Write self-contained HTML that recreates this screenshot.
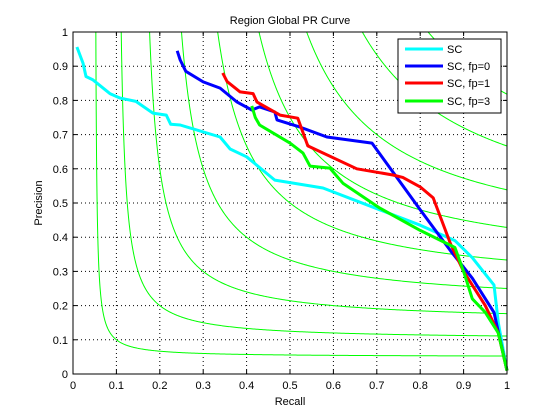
<!DOCTYPE html>
<html><head><meta charset="utf-8"><style>
html,body{margin:0;padding:0;background:#fff;}
svg{display:block;font-family:"Liberation Sans",sans-serif;}
</style></head><body>
<svg id="chart" width="560" height="420" viewBox="0 0 560 420" xmlns="http://www.w3.org/2000/svg">
<rect x="0" y="0" width="560" height="420" fill="#fff"/>
<g id="plot"></g>
</svg>
<script>
const xTicks = [0,0.1,0.2,0.3,0.4,0.5,0.6,0.7,0.8,0.9,1];
const yTicks = [0,0.1,0.2,0.3,0.4,0.5,0.6,0.7,0.8,0.9,1];
const tickLabels = ["0","0.1","0.2","0.3","0.4","0.5","0.6","0.7","0.8","0.9","1"];
const fLevels = [0.1,0.2,0.3,0.4,0.5,0.6,0.7,0.8,0.9];
const seriesNames = ["SC","SC, fp=0","SC, fp=1","SC, fp=3"];
const scRecall = [0.009,0.023,0.03,0.046,0.085,0.108,0.145,0.184,0.215,0.225,0.247,0.339,0.362,0.40,0.465,0.576,0.707,0.80,0.88,0.92,0.97,0.98,1];
const scPrecision = [0.956,0.909,0.87,0.86,0.82,0.807,0.797,0.763,0.757,0.73,0.728,0.693,0.658,0.635,0.567,0.544,0.48,0.435,0.39,0.34,0.26,0.15,0.01];
const fp0Recall = [0.24,0.247,0.26,0.30,0.339,0.378,0.412,0.43,0.465,0.47,0.523,0.585,0.689,0.80,0.87,0.92,0.97,1];
const fp0Precision = [0.945,0.918,0.885,0.854,0.836,0.795,0.772,0.781,0.766,0.743,0.722,0.693,0.675,0.48,0.36,0.28,0.18,0.01];
const fp1Recall = [0.345,0.355,0.385,0.415,0.424,0.477,0.518,0.541,0.654,0.737,0.76,0.80,0.83,0.87,0.9,0.95,0.98,1];
const fp1Precision = [0.88,0.855,0.825,0.82,0.795,0.757,0.748,0.667,0.60,0.582,0.575,0.547,0.515,0.38,0.3,0.2,0.12,0.01];
const fp3Recall = [0.412,0.42,0.43,0.50,0.53,0.546,0.592,0.622,0.707,0.80,0.88,0.9,0.92,0.95,0.98,1];
const fp3Precision = [0.784,0.75,0.728,0.675,0.646,0.608,0.602,0.558,0.485,0.42,0.37,0.3,0.22,0.18,0.12,0.01];

const X0=73, X1=507, Y0=374, Y1=32;
const sx = r => X0 + (X1-X0)*r;
const sy = p => Y0 - (Y0-Y1)*p;
const NS="http://www.w3.org/2000/svg";
const g=document.getElementById('plot');
function mk(tag, attrs){const e=document.createElementNS(NS,tag);for(const k in attrs)e.setAttribute(k,attrs[k]);g.appendChild(e);return e;}

xTicks.forEach((t,i)=>{ if(i>0&&i<xTicks.length-1){const l=mk('line',{x1:sx(t),x2:sx(t),y1:Y0,y2:Y1,stroke:'#000','stroke-width':1,'stroke-dasharray':'1,3'});

}});
yTicks.forEach((t,i)=>{ if(i>0&&i<yTicks.length-1){const l=mk('line',{x1:X0,x2:X1,y1:sy(t),y2:sy(t),stroke:'#000','stroke-width':1,'stroke-dasharray':'1,3'});

}});

const clip=mk('clipPath',{id:'pc'});clip.appendChild(document.createElementNS(NS,'rect'));
clip.firstChild.setAttribute('x',X0);clip.firstChild.setAttribute('y',Y1);clip.firstChild.setAttribute('width',X1-X0);clip.firstChild.setAttribute('height',Y0-Y1);
fLevels.forEach(F=>{
  let d='';const r0=F/(2-F);
  for(let k=0;k<=400;k++){const r=r0+(1-r0)*Math.pow(k/400,2);const p=F*r/(2*r-F);d+=(k?'L':'M')+sx(r).toFixed(2)+','+sy(Math.min(p,1)).toFixed(2);}
  const pth=mk('path',{d:d,fill:'none',stroke:'#00ff00','stroke-width':1,'clip-path':'url(#pc)'});
  
  
});

const series=[[scRecall,scPrecision,'#00ffff','sc-line'],[fp0Recall,fp0Precision,'#0000ff','sc-fp0-line'],[fp1Recall,fp1Precision,'#ff0000','sc-fp1-line'],[fp3Recall,fp3Precision,'#00ff00','sc-fp3-line']];
series.forEach(s=>{
  const pts=s[0].map((r,i)=>sx(r).toFixed(1)+','+sy(s[1][i]).toFixed(1)).join(' ');
  const pl=mk('polyline',{points:pts,fill:'none',stroke:s[2],'stroke-width':3,'stroke-linejoin':'round'});
  
  
});

const box=mk('rect',{x:X0,y:Y1,width:X1-X0,height:Y0-Y1,fill:'none',stroke:'#000','stroke-width':1});



xTicks.forEach((t,i)=>{
  mk('line',{x1:sx(t),x2:sx(t),y1:Y0,y2:Y0-4,stroke:'#000'});
  mk('line',{x1:sx(t),x2:sx(t),y1:Y1,y2:Y1+4,stroke:'#000'});
  const tx=mk('text',{x:sx(t),y:Y0+15,'font-size':11,'text-anchor':'middle'});tx.textContent=tickLabels[i];
  
  
});
yTicks.forEach((t,i)=>{
  mk('line',{x1:X0,x2:X0+4,y1:sy(t),y2:sy(t),stroke:'#000'});
  mk('line',{x1:X1,x2:X1-4,y1:sy(t),y2:sy(t),stroke:'#000'});
  const tx=mk('text',{x:X0-5,y:sy(t)+4,'font-size':11,'text-anchor':'end'});tx.textContent=tickLabels[i];
  
  
});

const title=mk('text',{x:290,y:24,'font-size':11,'text-anchor':'middle'});title.textContent='Region Global PR Curve';


const xl=mk('text',{x:290,y:405,'font-size':11,'text-anchor':'middle'});xl.textContent='Recall';


const yl=mk('text',{x:0,y:0,'font-size':11,'text-anchor':'middle',transform:'translate(42,203) rotate(-90)'});yl.textContent='Precision';



const lg=mk('rect',{x:398,y:39,width:103,height:74,fill:'#fff',stroke:'#000'});


const lys=[49,66,83,101];
series.forEach((s,i)=>{
  const ln=mk('line',{x1:405,x2:443,y1:lys[i],y2:lys[i],stroke:s[2],'stroke-width':3});
  
  
  const tx=mk('text',{x:447,y:lys[i]+4,'font-size':11});tx.textContent=seriesNames[i];
  
  
});
</script>
</body></html>
